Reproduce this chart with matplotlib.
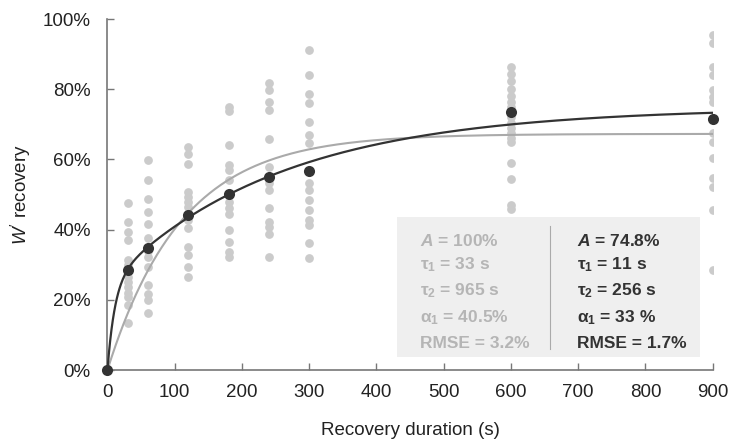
import numpy as np
import matplotlib
matplotlib.use('Agg')
import matplotlib.pyplot as plt
from matplotlib.patches import Rectangle

plt.rcParams['font.family'] = ['Liberation Sans', 'DejaVu Sans']
plt.rcParams['mathtext.fontset'] = 'custom'
plt.rcParams['mathtext.rm'] = 'Liberation Sans'
plt.rcParams['mathtext.it'] = 'Liberation Sans:italic'
plt.rcParams['mathtext.bf'] = 'Liberation Sans:bold'
plt.rcParams['mathtext.bfit'] = 'Liberation Sans:bold:italic'

# individual recoveries (%) per recovery duration (s)
durations = [30, 60, 120, 180, 240, 300, 600, 900]
individual = [
    [47.5, 42.3, 39.4, 37.0, 31.3, 30.0, 26.6, 25.0, 23.7, 22.0, 20.9, 18.5, 13.3],
    [59.8, 54.1, 48.7, 44.9, 41.6, 37.5, 34.0, 32.3, 29.4, 24.2, 21.8, 19.9, 16.2],
    [63.6, 61.7, 58.7, 50.8, 49.4, 47.9, 46.5, 42.7, 40.4, 35.1, 32.8, 29.4, 26.6],
    [75.0, 73.9, 64.1, 58.4, 57.0, 54.1, 47.9, 46.1, 44.6, 39.9, 36.6, 33.7, 32.3],
    [81.7, 79.8, 76.4, 74.1, 65.8, 57.9, 53.2, 51.3, 46.1, 42.3, 40.8, 38.9, 32.3],
    [91.2, 84.0, 78.8, 76.0, 70.7, 67.0, 64.6, 53.2, 51.3, 48.4, 45.6, 42.7, 41.3, 36.1, 31.8],
    [86.5, 84.5, 82.5, 80.0, 78.0, 76.5, 75.0, 72.0, 70.5, 69.0, 67.5, 66.0, 65.0, 59.0, 54.5, 47.0, 46.0],
    [95.4, 93.1, 86.4, 84.0, 79.8, 77.9, 76.5, 67.5, 65.0, 60.3, 54.6, 52.2, 45.6, 28.5],
]

# group means (%)
mean_t = [0, 30, 60, 120, 180, 240, 300, 600, 900]
mean_rec = [0, 28.5, 34.7, 44.2, 50.3, 55.1, 56.8, 73.5, 71.4]

# bi-exponential fit
A_bi, tau1_bi, tau2_bi, a1_bi = 74.8, 11, 256, 0.33
# mono-exponential curve drawn in grey
A_mono, tau_mono = 67.3, 110

left_labels = [r'$\mathbfit{A}$ = 100%', r'$\mathbf{\tau_1}$ = 33 s', r'$\mathbf{\tau_2}$ = 965 s',
               r'$\mathbf{\alpha_1}$ = 40.5%', 'RMSE = 3.2%']
right_labels = [r'$\mathbfit{A}$ = 74.8%', r'$\mathbf{\tau_1}$ = 11 s', r'$\mathbf{\tau_2}$ = 256 s',
                r'$\mathbf{\alpha_1}$ = 33 %', 'RMSE = 1.7%']

dark = '#333333'
light = '#b5b5b5'
fs = 13.5

fig = plt.figure(figsize=(7.31, 4.45), dpi=100)
ax = fig.add_axes([0.147, 0.1685, 0.828, 0.7885])

for t, vals in zip(durations, individual):
    ax.plot([t] * len(vals), vals, 'o', color='#cbcbcb', markersize=6.3, markeredgewidth=0, zorder=2)

t = np.linspace(0, 900, 901)
mono = A_mono * (1 - np.exp(-t / tau_mono))
bi = A_bi * (1 - a1_bi * np.exp(-t / tau1_bi) - (1 - a1_bi) * np.exp(-t / tau2_bi))
ax.plot(t, mono, color='#aaaaaa', lw=1.5, zorder=3)
ax.plot(t, bi, color=dark, lw=1.6, zorder=4)
ax.plot(mean_t, mean_rec, 'o', color=dark, markersize=8, markeredgewidth=0, zorder=5, clip_on=False)

# parameter box
ax.add_patch(Rectangle((430, 3.7), 451, 39.9, facecolor='#efefef', edgecolor='none', zorder=1))
ax.plot([658, 658], [6, 41], color='#aaaaaa', lw=0.8, zorder=1.5)
rows = [36.8, 30.0, 22.6, 15.0, 7.6]
for y, l, r in zip(rows, left_labels, right_labels):
    ax.text(465, y, l, color=light, fontsize=12.5, fontweight='bold', va='center', zorder=6)
    ax.text(698, y, r, color=dark, fontsize=12.5, fontweight='bold', va='center', zorder=6)

ax.set_xlim(0, 900)
ax.set_ylim(0, 100)
ax.set_xticks(range(0, 901, 100))
ax.set_yticks(range(0, 101, 20))
ax.set_yticklabels([f'{v}%' for v in range(0, 101, 20)])

for side in ['top', 'right']:
    ax.spines[side].set_visible(False)
for side in ['left', 'bottom']:
    ax.spines[side].set_color('#777777')
    ax.spines[side].set_linewidth(1.2)
ax.tick_params(axis='both', direction='in', length=5, width=1, color='#777777',
               labelsize=fs, labelcolor='#222222')
ax.tick_params(axis='x', pad=10)
ax.tick_params(axis='y', pad=12)

ax.set_xlabel('Recovery duration (s)', fontsize=fs, color='#222222', labelpad=15)
ax.set_ylabel(r"$\mathit{W'}$ recovery", fontsize=fs, color='#222222', labelpad=7)

fig.savefig('out.png', dpi=100)
